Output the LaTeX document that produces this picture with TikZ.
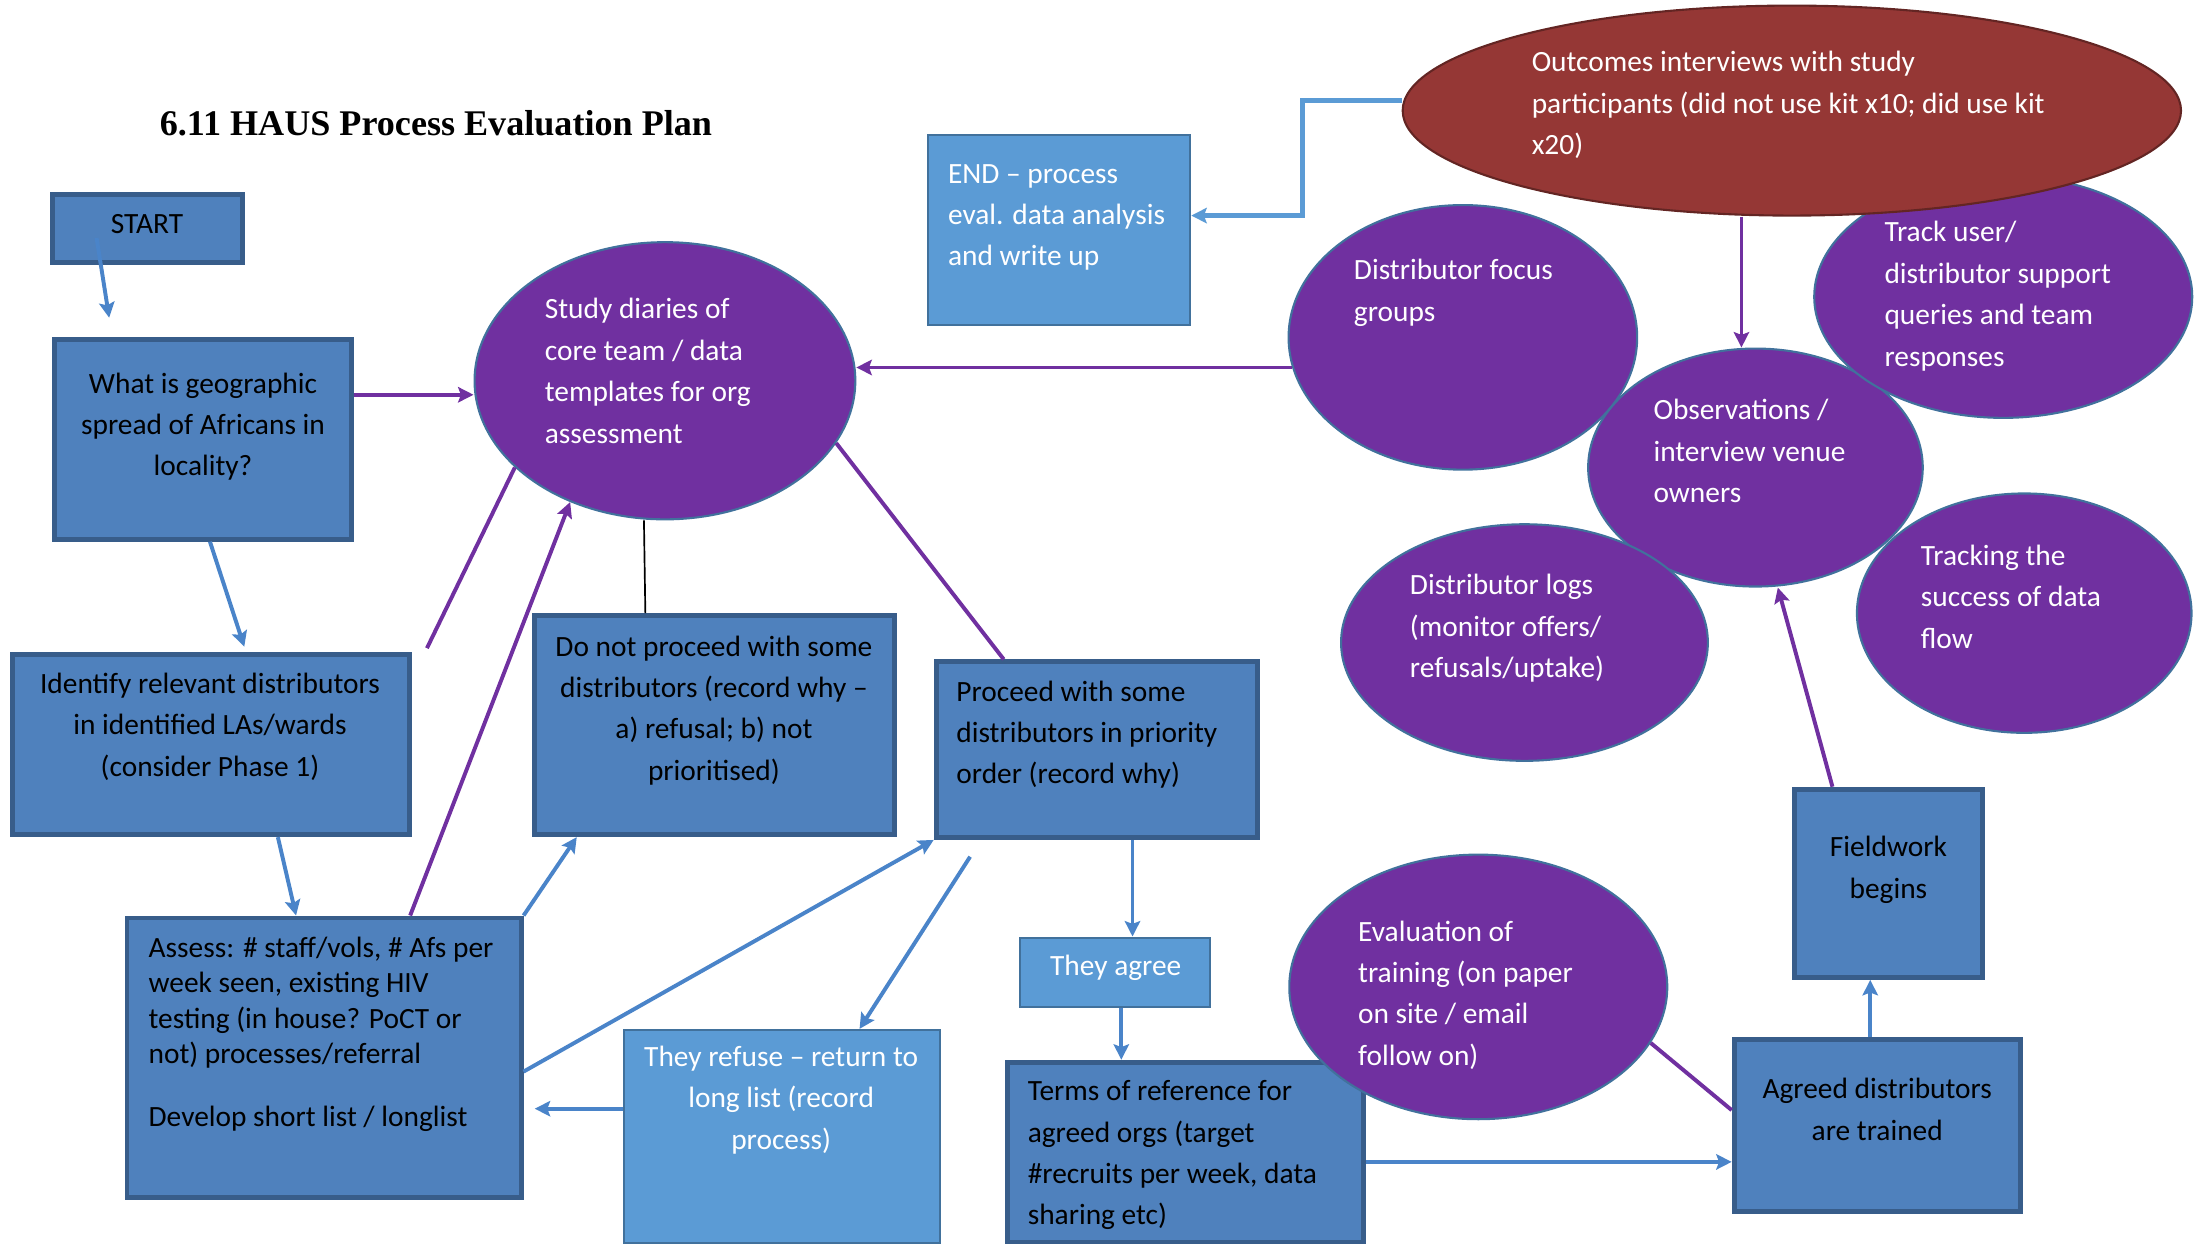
\documentclass[tikz,border=0pt]{standalone}
\usepackage{fontspec}
\setmainfont{Carlito}
\newfontfamily\titlefont{Liberation Serif}
\usepackage{tikz}
\usetikzlibrary{shapes.geometric,arrows.meta}
\definecolor{boxblue}{HTML}{4F81BD}
\definecolor{boxline}{HTML}{385D8A}
\definecolor{lightblue}{HTML}{5B9BD5}
\definecolor{lightline}{HTML}{41719C}
\definecolor{bubble}{HTML}{7030A0}
\definecolor{redbubble}{HTML}{953735}
\definecolor{redline}{HTML}{632523}
\definecolor{linkblue}{HTML}{4A84C9}
\tikzstyle{stepbox}=[draw=boxline,fill=boxblue,line width=3.5pt,inner sep=0pt]
\tikzstyle{lightbox}=[draw=lightline,fill=lightblue,line width=1.5pt,inner sep=0pt]
\tikzstyle{oval}=[ellipse,draw=lightline,fill=bubble,line width=1.5pt,inner sep=0pt]
\tikzstyle{btext}=[inner sep=0pt,font=\fontsize{21}{29.6}\selectfont]
\tikzstyle{wtext}=[btext,text=white]
\tikzstyle{bluelink}=[draw=linkblue,line width=2.8pt,-{Stealth[length=11pt,width=11pt,inset=2pt]}]
\tikzstyle{purplelink}=[draw=bubble,line width=2.8pt,-{Stealth[length=11pt,width=11pt,inset=2pt]}]
\tikzstyle{purpleline}=[draw=bubble,line width=2.8pt]

\begin{document}
\begin{tikzpicture}[x=1pt,y=-1pt]
  \useasboundingbox (0,0) rectangle (1568,890);

  \node[anchor=base west,inner sep=0pt,font=\titlefont\bfseries\fontsize{25.8}{30}\selectfont] (title) at (114,97) {6.11 HAUS Process Evaluation Plan};

  % left column (text nodes sit on their last baseline)
  \node[stepbox,minimum width=135.5,minimum height=48.5] (start) at (105.5,163) {};
  \node[btext,anchor=base] (startT) at (105,166.5) {START};
  \node[stepbox,minimum width=212.5,minimum height=142.5] (geo) at (145,314) {};
  \node[btext,anchor=base,align=center] (geoT) at (145,340) {What is geographic\\spread of Africans in\\locality?};
  \node[stepbox,minimum width=283.5,minimum height=128.5] (identify) at (150.5,532) {};
  \node[btext,anchor=base,align=center] (identifyT) at (150,554.5) {Identify relevant distributors\\in identified LAs/wards\\(consider Phase 1)};
  \node[stepbox,minimum width=281.5,minimum height=199.5] (assess) at (231.5,755.5) {};
  \node[btext,anchor=base west,align=left,font=\fontsize{21}{25.3}\selectfont] (assessT) at (106,805) {Assess: \# staff/vols, \# Afs per\\week seen, existing HIV\\testing (in house? PoCT or\\not) processes/referral\\[20pt]Develop short list / longlist};

  % middle
  \node[oval,minimum width=272,minimum height=198] (diaries) at (475,272) {};
  \node[wtext,anchor=base west,align=left] (diariesT) at (389,316.5) {Study diaries of\\core team / data\\templates for org\\assessment};
  \node[stepbox,minimum width=257.5,minimum height=156.5] (donot) at (510.5,518) {};
  \node[btext,anchor=base,align=center] (donotT) at (510,557.5) {Do not proceed with some\\distributors (record why --\\a) refusal; b) not\\prioritised)};
  \node[stepbox,minimum width=229.5,minimum height=125.5] (proceed) at (783.5,535.5) {};
  \node[btext,anchor=base west,align=left] (proceedT) at (683,560) {Proceed with some\\distributors in priority\\order (record why)};
  \node[lightbox,minimum width=225.5,minimum height=152.5] (refuse) at (558.5,812) {};
  \node[wtext,anchor=base,align=center] (refuseT) at (558,821) {They refuse -- return to\\long list (record\\process)};
  \node[lightbox,minimum width=135.5,minimum height=49.5] (agree) at (796.5,694.5) {};
  \node[wtext,anchor=base] (agreeT) at (797,697) {They agree};
  \node[stepbox,minimum width=254.5,minimum height=128.5] (terms) at (847,823) {};
  \node[btext,anchor=base west,align=left] (termsT) at (734,875) {Terms of reference for\\agreed orgs (target\\\#recruits per week, data\\sharing etc)};
  \node[lightbox,minimum width=187.5,minimum height=135.5] (end) at (756.5,164.5) {};
  \node[wtext,anchor=base west,align=left] (endT) at (677,190) {END -- process\\eval. data analysis\\and write up};

  % evaluation bubbles
  \node[oval,minimum width=249,minimum height=189] (focus) at (1045,241) {};
  \node[wtext,anchor=base west,align=left] (focusT) at (967,229.5) {Distributor focus\\groups};
  \node[oval,minimum width=239,minimum height=170] (obs) at (1254,334) {};
  \node[wtext,anchor=base west,align=left] (obsT) at (1181,359) {Observations /\\interview venue\\owners};
  \node[oval,minimum width=270,minimum height=173] (trackuser) at (1431,212) {};
  \node[wtext,anchor=base west,align=left] (trackuserT) at (1346,261.5) {Track user/\\distributor support\\queries and team\\responses};
  \node[ellipse,draw=redline,fill=redbubble,line width=1.5pt,minimum width=556,minimum height=150] (outcomes) at (1280,79) {};
  \node[wtext,anchor=base west,align=left] (outcomesT) at (1094,110.5) {Outcomes interviews with study\\participants (did not use kit x10; did use kit\\x20)};
  \node[oval,minimum width=262,minimum height=169] (logs) at (1089,459) {};
  \node[wtext,anchor=base west,align=left] (logsT) at (1007,484) {Distributor logs\\(monitor offers/\\refusals/uptake)};
  \node[oval,minimum width=239,minimum height=171] (tracking) at (1446,438) {};
  \node[wtext,anchor=base west,align=left] (trackingT) at (1372,463) {Tracking the\\success of data\\flow};

  % right column
  \node[stepbox,minimum width=134.5,minimum height=134.5] (field) at (1349,631) {};
  \node[btext,anchor=base,align=center] (fieldT) at (1349,641.5) {Fieldwork\\begins};
  \node[stepbox,minimum width=204.5,minimum height=122.5] (agreed) at (1341,804) {};
  \node[btext,anchor=base,align=center] (agreedT) at (1341,814.5) {Agreed distributors\\are trained};
  \node[oval,minimum width=270,minimum height=189] (evaluation) at (1056,705) {};
  \node[wtext,anchor=base west,align=left] (evaluationT) at (970,761) {Evaluation of\\training (on paper\\on site / email\\follow on)};

  % free ends
  \coordinate (startout) at (69,170);
  \coordinate (geoin) at (78,227);
  \coordinate (cut1) at (305,463);
  \coordinate (refback) at (693,612);

  % connectors
  \draw[bluelink] (startout) -- (geoin);
  \draw[purplelink] ([yshift=32pt]geo.east) -- ([yshift=32pt]geo.east -| diaries.west);
  \draw[bluelink] ([xshift=5pt]geo.south) -- ([xshift=24pt,yshift=4pt]identify.north);
  \draw[bluelink] ([xshift=48pt]identify.south) -- ([xshift=-20pt]assess.north);
  \draw[purpleline] (diaries.210) -- (cut1);
  \draw[purplelink] ([xshift=61.5pt]assess.north) -- (diaries.232);
  \draw[black,line width=1.2pt] ([xshift=-15pt]diaries.south) -- ([xshift=-49.5pt]donot.north);
  \draw[purpleline] (diaries.-20) -- ([xshift=-66.5pt]proceed.north);
  \draw[purplelink] (focus.190) -- (focus.190 -| diaries.east);
  \draw[draw=lightblue,line width=3.5pt,-{Stealth[length=11pt,width=11pt,inset=2pt]}] ([yshift=7pt]outcomes.west) -- ++(-71,0) |- ([yshift=10.5pt]end.east);
  \draw[purplelink] ([xshift=-36pt]outcomes.south) -- ([xshift=-36pt]outcomes.south |- obs.north);
  \draw[purplelink] ([xshift=-40pt]field.north) -- ([xshift=16pt]obs.south);
  \draw[bluelink] (assess.north east) -- ([xshift=32pt]donot.south west);
  \draw[bluelink] ([yshift=-10pt]assess.east) -- (proceed.south west);
  \draw[bluelink] (refback) -- ([xshift=55.5pt]refuse.north);
  \draw[bluelink] ([yshift=20pt]refuse.west) -- ([xshift=8pt,yshift=-36.5pt]assess.east);
  \draw[bluelink] ([xshift=25.5pt]proceed.south) -- ([xshift=25.5pt]proceed.south |- agree.north);
  \draw[bluelink] ([xshift=4.5pt]agree.south) -- ([xshift=4.5pt]agree.south |- terms.north);
  \draw[bluelink] ([yshift=-7pt]terms.east) -- ([yshift=-7pt]terms.east -| agreed.west);
  \draw[purpleline] (evaluation.-18) -- ([yshift=11pt]agreed.west);
  \draw[bluelink] ([xshift=-5pt]agreed.north) -- ([xshift=-5pt]agreed.north |- field.south);
\end{tikzpicture}
\end{document}
